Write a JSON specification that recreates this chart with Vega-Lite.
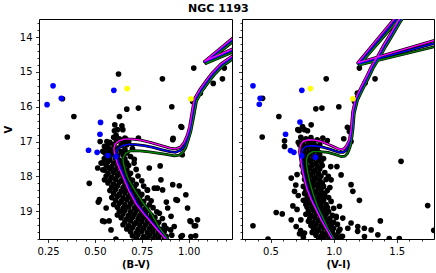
{
"$schema":"https://vega.github.io/schema/vega-lite/v6.json",
"background":"white",
"padding":{"left":2,"top":2,"right":2,"bottom":2},
"title":{"text":"NGC 1193","anchor":"start","frame":"group","dx":149,"fontSize":11,"fontWeight":"bold","font":"DejaVu Sans","color":"black","offset":-5,"baseline":"alphabetic"},
"config":{"view":{"stroke":"black","strokeWidth":1},"axis":{"domain":false,"grid":false,"tickColor":"black","tickWidth":0.8,"labelFont":"DejaVu Sans","labelFontSize":10,"labelColor":"black","titleFont":"DejaVu Sans","titleFontSize":10,"titleFontWeight":"bold","titleColor":"black","labelOverlap":false,"labelFlush":false,"labelPadding":3.5}},
"spacing":10,
"bounds":"flush",
"datasets":{
"sl":[{"x":0.626,"v":15.06},{"x":0.86,"v":15.2},{"x":1.027,"v":14.89},{"x":1.062,"v":15.61},{"x":1.021,"v":15.85},{"x":0.91,"v":16.0},{"x":0.67,"v":16.07},{"x":0.732,"v":16.04},{"x":0.388,"v":16.28},{"x":0.631,"v":16.28},{"x":0.606,"v":16.52},{"x":0.644,"v":16.55},{"x":0.604,"v":16.69},{"x":0.62,"v":16.66},{"x":0.963,"v":16.59},{"x":1.18,"v":15.2},{"x":1.131,"v":15.33},{"x":1.19,"v":14.89},{"x":0.353,"v":16.87},{"x":0.327,"v":15.77},{"x":0.528,"v":17.0},{"x":0.564,"v":17.0},{"x":0.613,"v":16.95},{"x":0.665,"v":16.93},{"x":0.732,"v":16.9},{"x":0.917,"v":16.91},{"x":0.649,"v":16.66},{"x":0.613,"v":16.82},{"x":0.959,"v":16.57},{"x":0.915,"v":16.95},{"x":0.551,"v":17.14},{"x":0.542,"v":17.28},{"x":0.569,"v":17.33},{"x":0.586,"v":17.24},{"x":0.56,"v":17.52},{"x":0.533,"v":17.62},{"x":0.515,"v":17.76},{"x":0.542,"v":17.81},{"x":0.578,"v":17.76},{"x":0.551,"v":18.1},{"x":0.524,"v":18.67},{"x":0.56,"v":18.91},{"x":0.551,"v":19.3},{"x":0.586,"v":19.54},{"x":0.47,"v":18.2},{"x":0.518,"v":18.74},{"x":0.541,"v":19.28},{"x":0.576,"v":19.28},{"x":0.612,"v":19.8},{"x":0.79,"v":17.76},{"x":0.852,"v":18.1},{"x":0.915,"v":18.24},{"x":0.95,"v":18.27},{"x":0.932,"v":18.67},{"x":0.985,"v":18.53},{"x":0.861,"v":18.39},{"x":0.817,"v":18.34},{"x":0.888,"v":18.91},{"x":0.994,"v":18.91},{"x":1.047,"v":19.25},{"x":1.012,"v":19.3},{"x":1.03,"v":19.42},{"x":0.959,"v":19.73},{"x":1.012,"v":19.73},{"x":0.923,"v":19.44},{"x":0.844,"v":19.06},{"x":0.906,"v":19.15},{"x":0.881,"v":18.74},{"x":0.94,"v":18.69},{"x":0.848,"v":17.7},{"x":1.007,"v":19.28},{"x":1.037,"v":19.42},{"x":0.966,"v":19.7},{"x":1.037,"v":19.71},{"x":0.904,"v":19.54},{"x":0.833,"v":18.34},{"x":0.78,"v":18.39},{"x":0.709,"v":17.62},{"x":0.966,"v":17.38},
{"x":0.6,"v":16.88},{"x":0.63,"v":16.92},{"x":0.66,"v":16.9},
{"x":0.58,"v":17.02},{"x":0.62,"v":16.98},{"x":0.65,"v":17.03},{"x":0.68,"v":17.0},
{"x":0.57,"v":17.12},{"x":0.6,"v":17.08},{"x":0.64,"v":17.11},{"x":0.67,"v":17.09},
{"x":0.56,"v":17.18},{"x":0.59,"v":17.22},{"x":0.62,"v":17.19},{"x":0.66,"v":17.23},{"x":0.7,"v":17.2},
{"x":0.55,"v":17.31},{"x":0.58,"v":17.28},{"x":0.61,"v":17.32},{"x":0.64,"v":17.29},{"x":0.67,"v":17.33},
{"x":0.56,"v":17.42},{"x":0.59,"v":17.38},{"x":0.62,"v":17.41},{"x":0.65,"v":17.39},{"x":0.69,"v":17.43},
{"x":0.55,"v":17.49},{"x":0.58,"v":17.52},{"x":0.61,"v":17.48},{"x":0.63,"v":17.53},{"x":0.66,"v":17.5},{"x":0.71,"v":17.51},
{"x":0.54,"v":17.61},{"x":0.57,"v":17.58},{"x":0.6,"v":17.62},{"x":0.64,"v":17.59},{"x":0.67,"v":17.61},
{"x":0.56,"v":17.69},{"x":0.59,"v":17.72},{"x":0.62,"v":17.68},{"x":0.65,"v":17.71},{"x":0.68,"v":17.69},
{"x":0.55,"v":17.82},{"x":0.58,"v":17.79},{"x":0.61,"v":17.81},{"x":0.64,"v":17.78},{"x":0.67,"v":17.82},{"x":0.72,"v":17.8},
{"x":0.57,"v":17.91},{"x":0.6,"v":17.88},{"x":0.63,"v":17.92},{"x":0.66,"v":17.89},{"x":0.69,"v":17.91},
{"x":0.56,"v":17.99},{"x":0.59,"v":18.02},{"x":0.62,"v":17.98},{"x":0.65,"v":18.01},{"x":0.68,"v":18.03},{"x":0.73,"v":17.99},
{"x":0.58,"v":18.11},{"x":0.61,"v":18.08},{"x":0.64,"v":18.12},{"x":0.67,"v":18.09},{"x":0.7,"v":18.11},{"x":0.75,"v":18.13},
{"x":0.57,"v":18.19},{"x":0.6,"v":18.22},{"x":0.63,"v":18.18},{"x":0.66,"v":18.21},{"x":0.69,"v":18.19},{"x":0.72,"v":18.23},
{"x":0.59,"v":18.31},{"x":0.62,"v":18.28},{"x":0.65,"v":18.32},{"x":0.68,"v":18.29},{"x":0.71,"v":18.31},{"x":0.76,"v":18.28},
{"x":0.58,"v":18.41},{"x":0.61,"v":18.38},{"x":0.64,"v":18.42},{"x":0.67,"v":18.39},{"x":0.7,"v":18.41},{"x":0.73,"v":18.43},{"x":0.78,"v":18.4},
{"x":0.6,"v":18.49},{"x":0.63,"v":18.52},{"x":0.66,"v":18.48},{"x":0.69,"v":18.51},{"x":0.72,"v":18.49},{"x":0.75,"v":18.52},
{"x":0.59,"v":18.61},{"x":0.62,"v":18.58},{"x":0.65,"v":18.62},{"x":0.68,"v":18.59},{"x":0.71,"v":18.61},{"x":0.74,"v":18.58},{"x":0.78,"v":18.62},
{"x":0.61,"v":18.69},{"x":0.64,"v":18.72},{"x":0.67,"v":18.68},{"x":0.7,"v":18.71},{"x":0.73,"v":18.69},{"x":0.76,"v":18.72},{"x":0.8,"v":18.7},
{"x":0.6,"v":18.81},{"x":0.63,"v":18.78},{"x":0.66,"v":18.82},{"x":0.69,"v":18.79},{"x":0.72,"v":18.81},{"x":0.75,"v":18.78},{"x":0.79,"v":18.82},
{"x":0.62,"v":18.89},{"x":0.65,"v":18.92},{"x":0.68,"v":18.88},{"x":0.71,"v":18.91},{"x":0.74,"v":18.89},{"x":0.77,"v":18.92},{"x":0.81,"v":18.9},
{"x":0.63,"v":19.01},{"x":0.66,"v":18.98},{"x":0.69,"v":19.02},{"x":0.72,"v":18.99},{"x":0.75,"v":19.01},{"x":0.78,"v":18.98},{"x":0.83,"v":19.02},
{"x":0.62,"v":19.11},{"x":0.65,"v":19.08},{"x":0.68,"v":19.12},{"x":0.71,"v":19.09},{"x":0.74,"v":19.11},{"x":0.77,"v":19.08},{"x":0.8,"v":19.12},
{"x":0.64,"v":19.19},{"x":0.67,"v":19.22},{"x":0.7,"v":19.18},{"x":0.73,"v":19.21},{"x":0.76,"v":19.19},{"x":0.79,"v":19.22},{"x":0.82,"v":19.18},{"x":0.86,"v":19.21},
{"x":0.66,"v":19.31},{"x":0.69,"v":19.28},{"x":0.72,"v":19.32},{"x":0.75,"v":19.29},{"x":0.78,"v":19.31},{"x":0.81,"v":19.28},{"x":0.84,"v":19.32},
{"x":0.65,"v":19.39},{"x":0.68,"v":19.42},{"x":0.71,"v":19.38},{"x":0.74,"v":19.41},{"x":0.77,"v":19.39},{"x":0.8,"v":19.42},{"x":0.83,"v":19.38},{"x":0.87,"v":19.41},
{"x":0.67,"v":19.51},{"x":0.7,"v":19.48},{"x":0.73,"v":19.52},{"x":0.76,"v":19.49},{"x":0.79,"v":19.51},{"x":0.82,"v":19.48},{"x":0.85,"v":19.52},{"x":0.88,"v":19.49},
{"x":0.69,"v":19.59},{"x":0.72,"v":19.62},{"x":0.75,"v":19.58},{"x":0.78,"v":19.61},{"x":0.81,"v":19.59},{"x":0.84,"v":19.62},{"x":0.87,"v":19.58},
{"x":0.7,"v":19.71},{"x":0.73,"v":19.68},{"x":0.76,"v":19.72},{"x":0.79,"v":19.69},{"x":0.82,"v":19.71},{"x":0.85,"v":19.68},{"x":0.88,"v":19.72},{"x":0.91,"v":19.69},
{"x":0.72,"v":19.79},{"x":0.75,"v":19.82},{"x":0.78,"v":19.78},{"x":0.81,"v":19.81},{"x":0.84,"v":19.79},{"x":0.87,"v":19.82}],
"sr":[{"x":1.204,"v":14.89},{"x":1.328,"v":15.2},{"x":0.941,"v":15.2},{"x":0.437,"v":15.76},{"x":1.188,"v":15.61},{"x":1.249,"v":15.32},{"x":1.165,"v":15.85},{"x":0.859,"v":16.06},{"x":0.907,"v":16.04},{"x":1.041,"v":16.0},{"x":0.566,"v":16.28},{"x":0.753,"v":16.57},{"x":0.822,"v":16.52},{"x":0.727,"v":16.68},{"x":0.793,"v":16.69},{"x":1.109,"v":16.59},{"x":0.434,"v":16.87},{"x":0.611,"v":16.98},{"x":0.611,"v":17.14},{"x":0.716,"v":16.66},{"x":0.769,"v":16.66},{"x":1.125,"v":16.71},{"x":1.138,"v":17.0},{"x":1.534,"v":17.57},{"x":1.745,"v":18.84},{"x":1.793,"v":19.55},{"x":1.37,"v":19.28},{"x":1.204,"v":18.69},{"x":1.138,"v":18.24},{"x":0.361,"v":19.42},{"x":0.48,"v":19.8},{"x":0.545,"v":19.04},{"x":0.593,"v":19.08},{"x":0.738,"v":19.56},{"x":1.19,"v":19.58},{"x":1.243,"v":19.49},{"x":1.35,"v":19.68},{"x":1.44,"v":19.79},{"x":1.52,"v":19.79},{"x":0.664,"v":18.05},{"x":0.777,"v":17.72},{"x":0.977,"v":17.72},{"x":1.026,"v":17.72},{"x":0.958,"v":18.0},{"x":1.059,"v":17.96},{"x":0.98,"v":18.1},{"x":1.152,"v":18.43},{"x":1.046,"v":18.86},{"x":0.927,"v":18.58},{"x":0.677,"v":18.85},{"x":0.69,"v":18.43},{"x":0.664,"v":19.25},{"x":0.703,"v":19.44},{"x":0.769,"v":19.63},{"x":1.138,"v":19.34},{"x":1.191,"v":19.44},{"x":1.244,"v":19.73},{"x":1.297,"v":19.54},{"x":1.112,"v":19.49},{"x":1.059,"v":19.73},{"x":1.02,"v":19.15},{"x":1.072,"v":19.2},{"x":1.08,"v":16.92},{"x":0.914,"v":16.9},{"x":0.87,"v":16.95},{"x":0.95,"v":16.97},{"x":0.71,"v":17.95},{"x":0.7,"v":18.25},{"x":0.72,"v":18.55},{"x":0.71,"v":18.95},{"x":0.74,"v":19.25},{"x":0.73,"v":19.65},{"x":0.76,"v":19.75},
{"x":0.74,"v":16.88},{"x":0.78,"v":16.92},{"x":0.82,"v":16.89},
{"x":0.72,"v":17.02},{"x":0.76,"v":16.98},{"x":0.8,"v":17.01},{"x":0.84,"v":17.03},
{"x":0.73,"v":17.09},{"x":0.77,"v":17.12},{"x":0.81,"v":17.08},{"x":0.85,"v":17.11},{"x":0.89,"v":17.1},
{"x":0.75,"v":17.21},{"x":0.79,"v":17.18},{"x":0.83,"v":17.22},{"x":0.87,"v":17.19},
{"x":0.76,"v":17.29},{"x":0.8,"v":17.32},{"x":0.84,"v":17.28},{"x":0.88,"v":17.31},
{"x":0.77,"v":17.41},{"x":0.81,"v":17.38},{"x":0.85,"v":17.42},{"x":0.89,"v":17.39},
{"x":0.76,"v":17.49},{"x":0.8,"v":17.52},{"x":0.84,"v":17.48},{"x":0.88,"v":17.51},{"x":0.92,"v":17.49},
{"x":0.78,"v":17.61},{"x":0.82,"v":17.58},{"x":0.86,"v":17.62},{"x":0.9,"v":17.59},
{"x":0.75,"v":17.69},{"x":0.79,"v":17.72},{"x":0.83,"v":17.68},{"x":0.87,"v":17.71},{"x":0.91,"v":17.69},
{"x":0.77,"v":17.81},{"x":0.81,"v":17.78},{"x":0.85,"v":17.82},{"x":0.89,"v":17.79},
{"x":0.76,"v":17.89},{"x":0.8,"v":17.92},{"x":0.84,"v":17.88},{"x":0.88,"v":17.91},{"x":0.93,"v":17.89},
{"x":0.78,"v":18.01},{"x":0.82,"v":17.98},{"x":0.86,"v":18.02},{"x":0.9,"v":17.99},
{"x":0.77,"v":18.09},{"x":0.81,"v":18.12},{"x":0.85,"v":18.08},{"x":0.89,"v":18.11},{"x":0.94,"v":18.09},
{"x":0.79,"v":18.21},{"x":0.83,"v":18.18},{"x":0.87,"v":18.22},{"x":0.91,"v":18.19},
{"x":0.76,"v":18.29},{"x":0.8,"v":18.32},{"x":0.84,"v":18.28},{"x":0.88,"v":18.31},{"x":0.92,"v":18.29},{"x":0.97,"v":18.32},
{"x":0.78,"v":18.41},{"x":0.82,"v":18.38},{"x":0.86,"v":18.42},{"x":0.9,"v":18.39},{"x":0.95,"v":18.41},
{"x":0.77,"v":18.49},{"x":0.81,"v":18.52},{"x":0.85,"v":18.48},{"x":0.89,"v":18.51},{"x":0.93,"v":18.49},
{"x":0.79,"v":18.61},{"x":0.83,"v":18.58},{"x":0.87,"v":18.62},{"x":0.91,"v":18.59},{"x":0.96,"v":18.61},
{"x":0.76,"v":18.69},{"x":0.8,"v":18.72},{"x":0.84,"v":18.68},{"x":0.88,"v":18.71},{"x":0.92,"v":18.69},{"x":0.98,"v":18.72},
{"x":0.78,"v":18.81},{"x":0.82,"v":18.78},{"x":0.86,"v":18.82},{"x":0.9,"v":18.79},{"x":0.94,"v":18.81},
{"x":0.79,"v":18.89},{"x":0.83,"v":18.92},{"x":0.87,"v":18.88},{"x":0.91,"v":18.91},{"x":0.95,"v":18.89},{"x":1.0,"v":18.92},
{"x":0.8,"v":19.01},{"x":0.84,"v":18.98},{"x":0.88,"v":19.02},{"x":0.92,"v":18.99},{"x":0.96,"v":19.01},
{"x":0.78,"v":19.09},{"x":0.82,"v":19.12},{"x":0.86,"v":19.08},{"x":0.9,"v":19.11},{"x":0.94,"v":19.09},{"x":0.99,"v":19.12},
{"x":0.81,"v":19.21},{"x":0.85,"v":19.18},{"x":0.89,"v":19.22},{"x":0.93,"v":19.19},{"x":0.97,"v":19.21},{"x":1.02,"v":19.18},
{"x":0.8,"v":19.29},{"x":0.84,"v":19.32},{"x":0.88,"v":19.28},{"x":0.92,"v":19.31},{"x":0.96,"v":19.29},{"x":1.0,"v":19.32},
{"x":0.82,"v":19.41},{"x":0.86,"v":19.38},{"x":0.9,"v":19.42},{"x":0.94,"v":19.39},{"x":0.98,"v":19.41},{"x":1.03,"v":19.38},
{"x":0.84,"v":19.49},{"x":0.88,"v":19.52},{"x":0.92,"v":19.48},{"x":0.96,"v":19.51},{"x":1.0,"v":19.49},{"x":1.05,"v":19.52},
{"x":0.83,"v":19.61},{"x":0.87,"v":19.58},{"x":0.91,"v":19.62},{"x":0.95,"v":19.59},{"x":0.99,"v":19.61},{"x":1.04,"v":19.58},
{"x":0.86,"v":19.69},{"x":0.9,"v":19.72},{"x":0.94,"v":19.68},{"x":0.98,"v":19.71},{"x":1.02,"v":19.69},{"x":1.07,"v":19.72},
{"x":0.88,"v":19.81},{"x":0.92,"v":19.78},{"x":0.96,"v":19.82},{"x":1.0,"v":19.79},{"x":1.04,"v":19.81}],
"cl":[{"x":0.277,"v":15.4,"k":"blue"},{"x":0.245,"v":15.94,"k":"blue"},{"x":0.321,"v":15.76,"k":"blue"},{"x":0.601,"v":15.53,"k":"blue"},{"x":0.53,"v":16.45,"k":"blue"},{"x":0.527,"v":16.79,"k":"blue"},{"x":0.466,"v":17.25,"k":"blue"},{"x":0.512,"v":17.31,"k":"blue"},{"x":0.569,"v":17.4,"k":"blue"},{"x":0.613,"v":17.43,"k":"blue"},{"x":0.672,"v":15.48,"k":"yellow"},{"x":1.012,"v":15.77,"k":"yellow"}],
"cr":[{"x":0.361,"v":15.4,"k":"blue"},{"x":0.411,"v":15.93,"k":"blue"},{"x":0.418,"v":15.76,"k":"blue"},{"x":0.748,"v":15.53,"k":"blue"},{"x":0.733,"v":16.44,"k":"blue"},{"x":0.619,"v":16.79,"k":"blue"},{"x":0.658,"v":17.26,"k":"blue"},{"x":0.685,"v":17.31,"k":"blue"},{"x":0.748,"v":17.41,"k":"blue"},{"x":0.856,"v":17.45,"k":"blue"},{"x":0.816,"v":15.48,"k":"yellow"},{"x":1.152,"v":15.77,"k":"yellow"}],
"il":[
{"s":"iso3","o":0,"x":0.895,"v":19.85},{"s":"iso3","o":1,"x":0.84,"v":19.45},{"s":"iso3","o":2,"x":0.8,"v":19.06},{"s":"iso3","o":3,"x":0.755,"v":18.75},{"s":"iso3","o":4,"x":0.711,"v":18.38},{"s":"iso3","o":5,"x":0.68,"v":18.1},{"s":"iso3","o":6,"x":0.666,"v":17.91},{"s":"iso3","o":7,"x":0.652,"v":17.62},{"s":"iso3","o":8,"x":0.65,"v":17.48},{"s":"iso3","o":9,"x":0.665,"v":17.33},{"s":"iso3","o":10,"x":0.693,"v":17.26},{"s":"iso3","o":11,"x":0.74,"v":17.27},{"s":"iso3","o":12,"x":0.79,"v":17.3},{"s":"iso3","o":13,"x":0.835,"v":17.33},{"s":"iso3","o":14,"x":0.88,"v":17.37},{"s":"iso3","o":15,"x":0.924,"v":17.41},{"s":"iso3","o":16,"x":0.95,"v":17.39},{"s":"iso3","o":17,"x":0.968,"v":17.32},{"s":"iso3","o":18,"x":0.985,"v":17.17},{"s":"iso3","o":19,"x":0.998,"v":16.95},{"s":"iso3","o":20,"x":1.012,"v":16.7},{"s":"iso3","o":21,"x":1.028,"v":16.25},{"s":"iso3","o":22,"x":1.042,"v":15.83},{"s":"iso3","o":23,"x":1.072,"v":15.55},{"s":"iso3","o":24,"x":1.112,"v":15.25},{"s":"iso3","o":25,"x":1.142,"v":15.05},{"s":"iso3","o":26,"x":1.182,"v":14.83},{"s":"iso3","o":27,"x":1.237,"v":14.62},{"s":"iso3","o":28,"x":1.5,"v":13.5},{"s":"iso3","o":29,"x":1.5,"v":13.82},{"s":"iso3","o":30,"x":1.092,"v":14.76},{"s":"iso3","o":31,"x":1.5,"v":12.98},
{"s":"iso2","o":0,"x":0.888,"v":19.85},{"s":"iso2","o":1,"x":0.832,"v":19.49},{"s":"iso2","o":2,"x":0.77,"v":19.1},{"s":"iso2","o":3,"x":0.727,"v":18.8},{"s":"iso2","o":4,"x":0.688,"v":18.4},{"s":"iso2","o":5,"x":0.656,"v":18.0},{"s":"iso2","o":6,"x":0.632,"v":17.67},{"s":"iso2","o":7,"x":0.616,"v":17.45},{"s":"iso2","o":8,"x":0.613,"v":17.32},{"s":"iso2","o":9,"x":0.623,"v":17.2},{"s":"iso2","o":10,"x":0.645,"v":17.12},{"s":"iso2","o":11,"x":0.676,"v":17.08},{"s":"iso2","o":12,"x":0.72,"v":17.09},{"s":"iso2","o":13,"x":0.764,"v":17.12},{"s":"iso2","o":14,"x":0.81,"v":17.17},{"s":"iso2","o":15,"x":0.853,"v":17.23},{"s":"iso2","o":16,"x":0.9,"v":17.29},{"s":"iso2","o":17,"x":0.93,"v":17.31},{"s":"iso2","o":18,"x":0.958,"v":17.25},{"s":"iso2","o":19,"x":0.978,"v":17.12},{"s":"iso2","o":20,"x":0.995,"v":16.9},{"s":"iso2","o":21,"x":1.008,"v":16.65},{"s":"iso2","o":22,"x":1.022,"v":16.2},{"s":"iso2","o":23,"x":1.036,"v":15.8},{"s":"iso2","o":24,"x":1.066,"v":15.52},{"s":"iso2","o":25,"x":1.106,"v":15.22},{"s":"iso2","o":26,"x":1.136,"v":15.02},{"s":"iso2","o":27,"x":1.176,"v":14.8},{"s":"iso2","o":28,"x":1.231,"v":14.59},{"s":"iso2","o":29,"x":1.5,"v":13.45},{"s":"iso2","o":30,"x":1.5,"v":13.75},{"s":"iso2","o":31,"x":1.087,"v":14.72},{"s":"iso2","o":32,"x":1.5,"v":12.9},
{"s":"iso1","o":0,"x":0.885,"v":19.85},{"s":"iso1","o":1,"x":0.826,"v":19.49},{"s":"iso1","o":2,"x":0.764,"v":19.1},{"s":"iso1","o":3,"x":0.72,"v":18.8},{"s":"iso1","o":4,"x":0.68,"v":18.4},{"s":"iso1","o":5,"x":0.648,"v":18.0},{"s":"iso1","o":6,"x":0.622,"v":17.67},{"s":"iso1","o":7,"x":0.606,"v":17.4},{"s":"iso1","o":8,"x":0.601,"v":17.2},{"s":"iso1","o":9,"x":0.608,"v":17.07},{"s":"iso1","o":10,"x":0.625,"v":16.99},{"s":"iso1","o":11,"x":0.657,"v":16.93},{"s":"iso1","o":12,"x":0.7,"v":16.93},{"s":"iso1","o":13,"x":0.746,"v":16.96},{"s":"iso1","o":14,"x":0.8,"v":17.03},{"s":"iso1","o":15,"x":0.85,"v":17.11},{"s":"iso1","o":16,"x":0.9,"v":17.19},{"s":"iso1","o":17,"x":0.93,"v":17.21},{"s":"iso1","o":18,"x":0.955,"v":17.16},{"s":"iso1","o":19,"x":0.975,"v":17.03},{"s":"iso1","o":20,"x":0.992,"v":16.82},{"s":"iso1","o":21,"x":1.005,"v":16.57},{"s":"iso1","o":22,"x":1.018,"v":16.15},{"s":"iso1","o":23,"x":1.03,"v":15.78},{"s":"iso1","o":24,"x":1.06,"v":15.5},{"s":"iso1","o":25,"x":1.1,"v":15.2},{"s":"iso1","o":26,"x":1.13,"v":15.0},{"s":"iso1","o":27,"x":1.17,"v":14.78},{"s":"iso1","o":28,"x":1.225,"v":14.57},{"s":"iso1","o":29,"x":1.5,"v":13.4},{"s":"iso1","o":30,"x":1.5,"v":13.7},{"s":"iso1","o":31,"x":1.083,"v":14.7},{"s":"iso1","o":32,"x":1.5,"v":12.85}],
"ir":[
{"s":"iso3","o":0,"x":1.01,"v":19.85},{"s":"iso3","o":1,"x":0.955,"v":19.5},{"s":"iso3","o":2,"x":0.91,"v":19.15},{"s":"iso3","o":3,"x":0.87,"v":18.85},{"s":"iso3","o":4,"x":0.835,"v":18.48},{"s":"iso3","o":5,"x":0.81,"v":18.15},{"s":"iso3","o":6,"x":0.796,"v":17.91},{"s":"iso3","o":7,"x":0.785,"v":17.65},{"s":"iso3","o":8,"x":0.785,"v":17.5},{"s":"iso3","o":9,"x":0.8,"v":17.37},{"s":"iso3","o":10,"x":0.835,"v":17.29},{"s":"iso3","o":11,"x":0.89,"v":17.29},{"s":"iso3","o":12,"x":0.954,"v":17.31},{"s":"iso3","o":13,"x":1.01,"v":17.37},{"s":"iso3","o":14,"x":1.059,"v":17.43},{"s":"iso3","o":15,"x":1.09,"v":17.42},{"s":"iso3","o":16,"x":1.112,"v":17.33},{"s":"iso3","o":17,"x":1.128,"v":17.18},{"s":"iso3","o":18,"x":1.138,"v":17.05},{"s":"iso3","o":19,"x":1.153,"v":16.65},{"s":"iso3","o":20,"x":1.163,"v":16.2},{"s":"iso3","o":21,"x":1.189,"v":15.81},{"s":"iso3","o":22,"x":1.229,"v":15.51},{"s":"iso3","o":23,"x":1.274,"v":15.19},{"s":"iso3","o":24,"x":1.314,"v":14.89},{"s":"iso3","o":25,"x":1.364,"v":14.59},{"s":"iso3","o":26,"x":1.414,"v":14.26},{"s":"iso3","o":27,"x":1.464,"v":13.96},{"s":"iso3","o":28,"x":1.524,"v":13.59},{"s":"iso3","o":29,"x":1.72,"v":12.5},{"s":"iso3","o":30,"x":2.0,"v":14.1},{"s":"iso3","o":31,"x":1.205,"v":14.8},{"s":"iso3","o":32,"x":1.62,"v":13.05},
{"s":"iso2","o":0,"x":1.0,"v":19.85},{"s":"iso2","o":1,"x":0.945,"v":19.5},{"s":"iso2","o":2,"x":0.906,"v":19.25},{"s":"iso2","o":3,"x":0.866,"v":18.95},{"s":"iso2","o":4,"x":0.828,"v":18.67},{"s":"iso2","o":5,"x":0.796,"v":18.38},{"s":"iso2","o":6,"x":0.775,"v":18.1},{"s":"iso2","o":7,"x":0.757,"v":17.8},{"s":"iso2","o":8,"x":0.746,"v":17.5},{"s":"iso2","o":9,"x":0.745,"v":17.35},{"s":"iso2","o":10,"x":0.755,"v":17.22},{"s":"iso2","o":11,"x":0.78,"v":17.14},{"s":"iso2","o":12,"x":0.82,"v":17.12},{"s":"iso2","o":13,"x":0.87,"v":17.13},{"s":"iso2","o":14,"x":0.92,"v":17.17},{"s":"iso2","o":15,"x":0.97,"v":17.22},{"s":"iso2","o":16,"x":1.01,"v":17.27},{"s":"iso2","o":17,"x":1.045,"v":17.31},{"s":"iso2","o":18,"x":1.075,"v":17.31},{"s":"iso2","o":19,"x":1.1,"v":17.25},{"s":"iso2","o":20,"x":1.12,"v":17.1},{"s":"iso2","o":21,"x":1.133,"v":16.95},{"s":"iso2","o":22,"x":1.147,"v":16.62},{"s":"iso2","o":23,"x":1.157,"v":16.17},{"s":"iso2","o":24,"x":1.181,"v":15.79},{"s":"iso2","o":25,"x":1.221,"v":15.49},{"s":"iso2","o":26,"x":1.266,"v":15.17},{"s":"iso2","o":27,"x":1.306,"v":14.87},{"s":"iso2","o":28,"x":1.356,"v":14.57},{"s":"iso2","o":29,"x":1.406,"v":14.24},{"s":"iso2","o":30,"x":1.456,"v":13.94},{"s":"iso2","o":31,"x":1.516,"v":13.57},{"s":"iso2","o":32,"x":1.71,"v":12.5},{"s":"iso2","o":33,"x":2.0,"v":13.98},{"s":"iso2","o":34,"x":1.197,"v":14.77},{"s":"iso2","o":35,"x":1.61,"v":13.0},
{"s":"iso1","o":0,"x":0.995,"v":19.85},{"s":"iso1","o":1,"x":0.94,"v":19.5},{"s":"iso1","o":2,"x":0.901,"v":19.25},{"s":"iso1","o":3,"x":0.86,"v":18.95},{"s":"iso1","o":4,"x":0.822,"v":18.67},{"s":"iso1","o":5,"x":0.79,"v":18.38},{"s":"iso1","o":6,"x":0.769,"v":18.1},{"s":"iso1","o":7,"x":0.75,"v":17.8},{"s":"iso1","o":8,"x":0.738,"v":17.5},{"s":"iso1","o":9,"x":0.73,"v":17.3},{"s":"iso1","o":10,"x":0.735,"v":17.12},{"s":"iso1","o":11,"x":0.755,"v":17.0},{"s":"iso1","o":12,"x":0.796,"v":16.95},{"s":"iso1","o":13,"x":0.85,"v":16.96},{"s":"iso1","o":14,"x":0.901,"v":17.0},{"s":"iso1","o":15,"x":0.95,"v":17.07},{"s":"iso1","o":16,"x":0.994,"v":17.14},{"s":"iso1","o":17,"x":1.03,"v":17.2},{"s":"iso1","o":18,"x":1.059,"v":17.23},{"s":"iso1","o":19,"x":1.085,"v":17.2},{"s":"iso1","o":20,"x":1.105,"v":17.1},{"s":"iso1","o":21,"x":1.125,"v":16.95},{"s":"iso1","o":22,"x":1.14,"v":16.6},{"s":"iso1","o":23,"x":1.15,"v":16.15},{"s":"iso1","o":24,"x":1.173,"v":15.77},{"s":"iso1","o":25,"x":1.213,"v":15.47},{"s":"iso1","o":26,"x":1.258,"v":15.15},{"s":"iso1","o":27,"x":1.298,"v":14.85},{"s":"iso1","o":28,"x":1.348,"v":14.55},{"s":"iso1","o":29,"x":1.398,"v":14.22},{"s":"iso1","o":30,"x":1.448,"v":13.92},{"s":"iso1","o":31,"x":1.508,"v":13.55},{"s":"iso1","o":32,"x":1.7,"v":12.5},{"s":"iso1","o":33,"x":2.0,"v":13.88},{"s":"iso1","o":34,"x":1.19,"v":14.74},{"s":"iso1","o":35,"x":1.6,"v":12.95}]
},
"hconcat":[
{"width":193,"height":220,
"encoding":{
"x":{"field":"x","type":"quantitative","scale":{"domain":[0.202,1.231],"nice":false,"zero":false},"axis":{"title":"(B-V)","titlePadding":3,"values":[0.25,0.3,0.35,0.4,0.45,0.5,0.55,0.6,0.65,0.7,0.75,0.8,0.85,0.9,0.95,1.0,1.05,1.1,1.15,1.2],"labelExpr":"abs(datum.value*4-round(datum.value*4))<0.001 ? format(datum.value,'.2f') : ''","tickSize":{"condition":{"test":"abs(datum.value*4-round(datum.value*4))<0.001","value":3.5},"value":2}}},
"y":{"field":"v","type":"quantitative","scale":{"domain":[13.48,19.8],"reverse":true,"nice":false,"zero":false},"axis":{"title":"V","titlePadding":6,"values":[13.6,13.8,14,14.2,14.4,14.6,14.8,15,15.2,15.4,15.6,15.8,16,16.2,16.4,16.6,16.8,17,17.2,17.4,17.6,17.8,18,18.2,18.4,18.6,18.8,19,19.2,19.4,19.6,19.8],"labelExpr":"abs(datum.value-round(datum.value))<0.001 ? format(datum.value,'.0f') : ''","tickSize":{"condition":{"test":"abs(datum.value-round(datum.value))<0.001","value":3.5},"value":2}}}
},
"layer":[
{"data":{"name":"sl"},"mark":{"type":"circle","size":32,"color":"black","opacity":1,"clip":true}},
{"data":{"name":"il"},"mark":{"type":"line","color":"black","strokeWidth":2.8,"strokeJoin":"round","clip":true},"encoding":{"detail":{"field":"s"},"order":{"field":"o"}}},
{"data":{"name":"il"},"mark":{"type":"line","strokeWidth":1.4,"strokeJoin":"round","clip":true},"encoding":{"color":{"field":"s","type":"nominal","scale":{"domain":["iso3","iso2","iso1"],"range":["#008000","#0000ff","#ff00ff"]},"legend":null},"order":{"field":"o"}}},
{"data":{"name":"cl"},"mark":{"type":"circle","size":32,"opacity":1,"clip":true},"encoding":{"color":{"field":"k","type":"nominal","scale":{"domain":["blue","yellow"],"range":["#0000ff","#ffff00"]},"legend":null}}}
],
"resolve":{"scale":{"color":"independent"}}
},
{"width":192,"height":220,
"encoding":{
"x":{"field":"x","type":"quantitative","scale":{"domain":[0.274,1.795],"nice":false,"zero":false},"axis":{"title":"(V-I)","titlePadding":3,"values":[0.3,0.4,0.5,0.6,0.7,0.8,0.9,1.0,1.1,1.2,1.3,1.4,1.5,1.6,1.7],"labelExpr":"abs(datum.value*2-round(datum.value*2))<0.001 ? format(datum.value,'.1f') : ''","tickSize":{"condition":{"test":"abs(datum.value*2-round(datum.value*2))<0.001","value":3.5},"value":2}}},
"y":{"field":"v","type":"quantitative","scale":{"domain":[13.48,19.8],"reverse":true,"nice":false,"zero":false},"axis":{"title":null,"labels":false,"values":[13.6,13.8,14,14.2,14.4,14.6,14.8,15,15.2,15.4,15.6,15.8,16,16.2,16.4,16.6,16.8,17,17.2,17.4,17.6,17.8,18,18.2,18.4,18.6,18.8,19,19.2,19.4,19.6,19.8],"tickSize":{"condition":{"test":"abs(datum.value-round(datum.value))<0.001","value":3.5},"value":2}}}
},
"layer":[
{"data":{"name":"sr"},"mark":{"type":"circle","size":32,"color":"black","opacity":1,"clip":true}},
{"data":{"name":"ir"},"mark":{"type":"line","color":"black","strokeWidth":2.8,"strokeJoin":"round","clip":true},"encoding":{"detail":{"field":"s"},"order":{"field":"o"}}},
{"data":{"name":"ir"},"mark":{"type":"line","strokeWidth":1.4,"strokeJoin":"round","clip":true},"encoding":{"color":{"field":"s","type":"nominal","scale":{"domain":["iso3","iso2","iso1"],"range":["#008000","#0000ff","#ff00ff"]},"legend":null},"order":{"field":"o"}}},
{"data":{"name":"cr"},"mark":{"type":"circle","size":32,"opacity":1,"clip":true},"encoding":{"color":{"field":"k","type":"nominal","scale":{"domain":["blue","yellow"],"range":["#0000ff","#ffff00"]},"legend":null}}}
],
"resolve":{"scale":{"color":"independent"}}
}
]
}
